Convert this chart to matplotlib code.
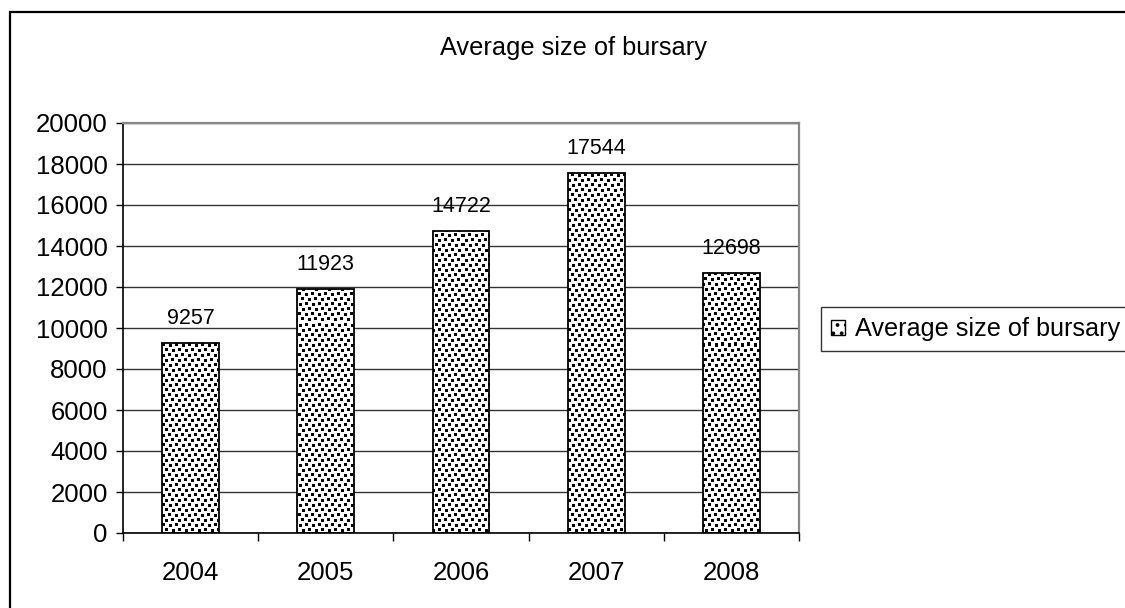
import matplotlib
matplotlib.use("Agg")
import matplotlib.pyplot as plt
from matplotlib.patches import Rectangle, Patch
import numpy as np

years = ["2004", "2005", "2006", "2007", "2008"]
bursary = [9257, 11923, 14722, 17544, 12698]
series_name = "Average size of bursary"
y_ticks = list(range(0, 20001, 2000))

plt.rcParams["font.family"] = ["Liberation Sans", "DejaVu Sans"]
plt.rcParams["hatch.linewidth"] = 1.5
plt.rcParams["hatch.color"] = "black"

W, H = 1125, 608
fig = plt.figure(figsize=(W / 100, H / 100), dpi=100)
fig.patch.set_facecolor("white")

# chart frame (runs off the right and bottom edge)
fig.add_artist(Rectangle((10 / W, -0.1), 1.2, 1 - 12 / H + 0.1,
                         transform=fig.transFigure, fill=False,
                         edgecolor="black", linewidth=1.6))

ax_l, ax_r, ax_t, ax_b = 123, 799, 123, 533
ax = fig.add_axes([ax_l / W, 1 - ax_b / H, (ax_r - ax_l) / W, (ax_b - ax_t) / H])
x = np.arange(len(years))
xlim = (-0.5, len(years) - 0.5)
ylim = (0, 20000)

# stipple texture: 3x3 px dots in rows that drift sideways
def stipple(h, w):
    tile = np.ones((20, 13))
    for r, c in [(0, 0), (1, 7), (5, 3), (6, 10), (10, 6), (11, 0),
                 (15, 9), (16, 3)]:
        tile[r:r + 3, c:c + 3] = 0
    reps = (h // tile.shape[0] + 1, w // tile.shape[1] + 1)
    return np.tile(tile, reps)[:h, :w]

tex = stipple(ax_b - ax_t, ax_r - ax_l)

fills = ax.bar(x, bursary, width=0.42, color="white", edgecolor="none", zorder=2)
for patch in fills:
    im = ax.imshow(tex, cmap="gray", vmin=0, vmax=1, extent=(*xlim, *ylim),
                   origin="upper", aspect="auto", interpolation="nearest", zorder=2.5)
    im.set_clip_path(patch)
ax.bar(x, bursary, width=0.42, fill=False, edgecolor="black", linewidth=1.3, zorder=3)

for xi, v in zip(x, bursary):
    ax.annotate(str(v), (xi, v), xytext=(0, 10), textcoords="offset points",
                ha="center", va="bottom", fontsize=15.5, zorder=4)

ax.set_xlim(*xlim)
ax.set_ylim(*ylim)
ax.set_yticks(y_ticks)
ax.set_yticklabels([str(t) for t in y_ticks], fontsize=18.5)
ax.yaxis.grid(True, color="#333333", linewidth=1.0, zorder=0)

ax.set_xticks(x)
ax.set_xticklabels(years, fontsize=18.5)
ax.set_xticks(np.arange(-0.5, len(years), 1.0), minor=True)
ax.tick_params(axis="x", which="major", length=0, pad=20)
ax.tick_params(axis="x", which="minor", length=6, width=1, direction="out", color="black")
ax.tick_params(axis="y", length=5, width=1, direction="out", color="black", pad=6)

for side in ("left", "bottom"):
    ax.spines[side].set_color("black")
    ax.spines[side].set_linewidth(1.2)
for side in ("right", "top"):
    ax.spines[side].set_color("#888888")
    ax.spines[side].set_linewidth(1.6)

fig.text(574 / W, 1 - 48 / H, series_name, ha="center", va="center", fontsize=18.3)

handle = Patch(facecolor="white", edgecolor="black", hatch="..", linewidth=1.0)
leg = fig.legend(handles=[handle], labels=[series_name], loc="upper left",
                 bbox_to_anchor=(821 / W, 1 - 307 / H), fontsize=18.2,
                 frameon=True, fancybox=False, edgecolor="black",
                 handlelength=0.55, handleheight=0.55, handletextpad=0.4,
                 borderpad=0.4, borderaxespad=0)
leg.get_frame().set_linewidth(1.0)

fig.savefig("out.png", dpi=100, facecolor="white")
